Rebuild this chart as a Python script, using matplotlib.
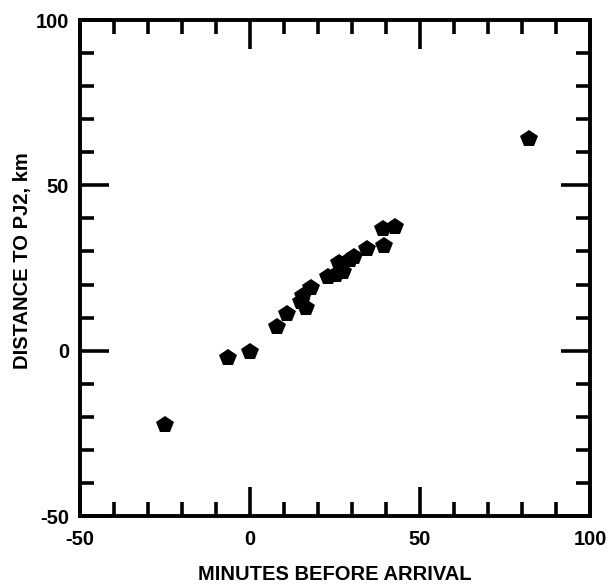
import matplotlib
matplotlib.use("Agg")
import matplotlib.pyplot as plt
from matplotlib.ticker import MultipleLocator

# Data
minutes = [-25, -6.5, 0, 8, 11, 15, 15.5, 16.5, 18, 23, 25.3, 26.2, 27.4, 29.4, 30.5,
           34.4, 39.4, 39.1, 42.5, 82]
distance = [-22.5, -2.2, -0.3, 7.2, 11.1, 14.6, 16.4, 12.9, 19.0, 22.3, 22.8, 26.5, 23.8,
            27.4, 28.2, 30.8, 31.7, 36.8, 37.4, 64]

x_ticks = [-50, 0, 50, 100]
y_ticks = [-50, 0, 50, 100]
x_label = "MINUTES BEFORE ARRIVAL"
y_label = "DISTANCE TO PJ2, km"

plt.rcParams['font.family'] = ['Liberation Sans', 'DejaVu Sans']
plt.rcParams['axes.unicode_minus'] = False

fig = plt.figure(figsize=(6.11, 5.84), dpi=100)
ax = fig.add_axes([80/611, 68/584, 510/611, 496/584])

ax.plot(minutes, distance, linestyle='none', marker='p', markersize=13,
        color='black', markeredgewidth=0)

ax.set_xlim(-50, 100)
ax.set_ylim(-50, 100)
ax.set_xticks(x_ticks)
ax.set_yticks(y_ticks)
ax.xaxis.set_minor_locator(MultipleLocator(10))
ax.yaxis.set_minor_locator(MultipleLocator(10))

ax.tick_params(which='both', direction='in', top=True, right=True, width=2.6,
               color='black')
ax.tick_params(which='major', length=21)
ax.tick_params(which='minor', length=10)
ax.tick_params(axis='x', which='major', pad=10, labelsize=14.5)
ax.tick_params(axis='y', which='major', pad=8, labelsize=14.5)
for lab in ax.get_xticklabels() + ax.get_yticklabels():
    lab.set_fontweight('bold')

for sp in ax.spines.values():
    sp.set_linewidth(2.8)

ax.set_xlabel(x_label, fontsize=14.5, fontweight='bold')
ax.set_ylabel(y_label, fontsize=14.5, fontweight='bold')
ax.xaxis.set_label_coords(0.5, -0.098)
ax.yaxis.set_label_coords(-0.094, 0.514)

fig.savefig("out.png", dpi=100)
